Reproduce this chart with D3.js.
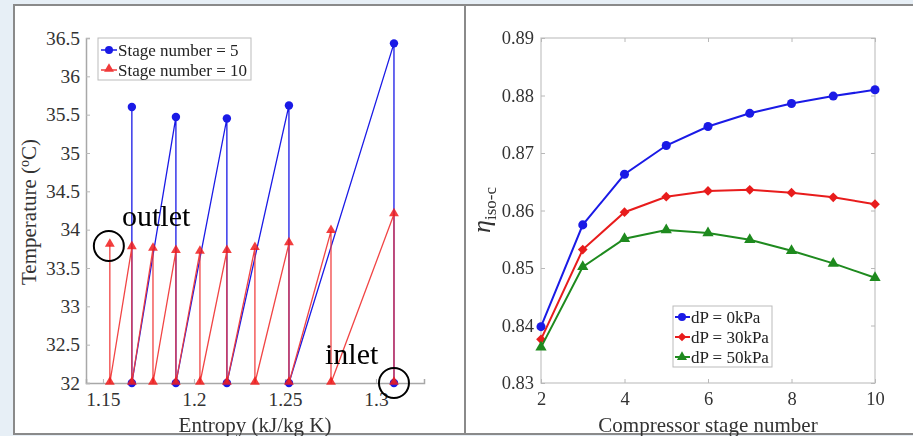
<!DOCTYPE html>
<html><head><meta charset="utf-8">
<script src="https://cdn.jsdelivr.net/npm/d3@7"></script>
<style>
html,body{margin:0;padding:0;background:#e7eff6;}
svg{display:block;font-family:"Liberation Serif","Times New Roman",serif;}
.tick text{font-family:"Liberation Serif","Times New Roman",serif !important;fill:#333;}
</style></head>
<body><svg id="c" width="913" height="436"></svg>
<script>
// ---- Left chart data (T-s diagram) ----
const stage5S  = [1.3099,1.3099,1.2522,1.2522,1.2181,1.2181,1.1901,1.1901,1.1659,1.1659];
const stage5T  = [32,36.43,32,35.62,32,35.45,32,35.47,32,35.60];
const stage10S = [1.3099,1.3099,1.2753,1.2753,1.2522,1.2522,1.2335,1.2335,1.2181,1.2181,1.2033,1.2033,1.1901,1.1901,1.1775,1.1775,1.1659,1.1659,1.1538,1.1538];
const stage10T = [32,34.20,32,33.98,32,33.82,32,33.76,32,33.72,32,33.71,32,33.72,32,33.75,32,33.77,32,33.80];
const leftXTicks = [1.15,1.2,1.25,1.3];
const leftYTicks = [32,32.5,33,33.5,34,34.5,35,35.5,36,36.5];
const leftLegend = ["Stage number = 5","Stage number = 10"];

// ---- Right chart data ----
const stages = [2,3,4,5,6,7,8,9,10];
const eta0   = [0.8398,0.8575,0.8663,0.8713,0.8746,0.8769,0.8786,0.8799,0.8810];
const eta30  = [0.8376,0.8532,0.8597,0.8624,0.8634,0.8636,0.8631,0.8623,0.8611];
const eta50  = [0.8362,0.8502,0.8551,0.8566,0.8561,0.8549,0.8530,0.8508,0.8483];
const rightLegend = ["dP = 0kPa","dP = 30kPa","dP = 50kPa"];
const rightXTicks = [2,4,6,8,10];
const rightYTicks = [0.83,0.84,0.85,0.86,0.87,0.88,0.89];

const svg = d3.select("#c");
const BLUE="#1a1ae6", RED="#f03a3a", GREEN="#1e8a1e";
const SERIF = '"Liberation Serif","Times New Roman",serif';

function styleAxis(a, fs, domainCol){
  a.attr("font-family", SERIF).attr("font-size", fs);
  if(domainCol) a.select(".domain").attr("stroke",domainCol).attr("stroke-width",1.5);
  else a.select(".domain").remove();
  a.selectAll(".tick line").attr("stroke","#b8b8b8");
  a.selectAll(".tick text").attr("fill","#333").attr("font-family",SERIF).attr("font-size",fs);
}

// panels
svg.append("rect").attr("x",14).attr("y",4).attr("width",905).attr("height",430).attr("fill","#fff");
const frame = svg.append("g").attr("stroke","#8a8a8a").attr("stroke-width",2).attr("fill","none");
frame.append("line").attr("x1",14).attr("x2",913).attr("y1",5).attr("y2",5);
frame.append("line").attr("x1",14).attr("x2",913).attr("y1",434).attr("y2",434);
frame.append("line").attr("x1",14).attr("x2",14).attr("y1",4).attr("y2",435);
frame.append("line").attr("x1",465).attr("x2",465).attr("y1",4).attr("y2",435);

// ================= LEFT =================
const xL = d3.scaleLinear().domain([1.1407,1.3264]).range([86,424]);
const yL = d3.scaleLinear().domain([32,36.5]).range([383,38]);
const gL = svg.append("g");

const axL = gL.append("g").attr("transform","translate(0,383)")
  .call(d3.axisBottom(xL).tickValues(leftXTicks).tickSize(-4).tickPadding(9).tickFormat(d3.format("")));
const ayL = gL.append("g").attr("transform","translate(86,0)")
  .call(d3.axisLeft(yL).tickValues(leftYTicks).tickSize(-4).tickPadding(6).tickFormat(d3.format("")));
styleAxis(axL,19.5,"#a8a8a8");
styleAxis(ayL,19.5,"#a8a8a8");

const lineL = d3.line().x(d=>xL(d[0])).y(d=>yL(d[1]));
const pts5 = stage5S.map((s,i)=>[s,stage5T[i]]);
const pts10 = stage10S.map((s,i)=>[s,stage10T[i]]);

gL.append("path").attr("d",lineL(pts5)).attr("fill","none").attr("stroke",BLUE).attr("stroke-width",1.3);
gL.selectAll(".c5").data(pts5).enter().append("circle")
  .attr("cx",d=>xL(d[0])).attr("cy",d=>yL(d[1])).attr("r",4.2).attr("fill",BLUE);

const tri = d3.symbol().type(d3.symbolTriangle).size(42);
gL.append("path").attr("d",lineL(pts10)).attr("fill","none").attr("stroke",RED).attr("stroke-width",1.3).attr("stroke-opacity",0.95);
gL.append("g").attr("opacity",0.85).selectAll(".t10").data(pts10).enter().append("path")
  .attr("d",tri).attr("transform",d=>`translate(${xL(d[0])},${yL(d[1])-1})`).attr("fill","#f01c1c");

// annotations
gL.append("text").attr("x",122).attr("y",226).attr("font-size",30).attr("fill","#000").text("outlet");
gL.append("text").attr("x",325).attr("y",364).attr("font-size",30).attr("fill","#000").text("inlet");
gL.append("circle").attr("cx",xL(stage10S[stage10S.length-1])-1).attr("cy",yL(stage10T[stage10T.length-1])+1)
  .attr("r",15).attr("fill","none").attr("stroke","#000").attr("stroke-width",2);
gL.append("circle").attr("cx",xL(stage10S[0])).attr("cy",yL(stage10T[0]))
  .attr("r",15).attr("fill","none").attr("stroke","#000").attr("stroke-width",2);

// legend
const lg = gL.append("g");
lg.append("rect").attr("x",98).attr("y",38).attr("width",153).attr("height",42).attr("fill","#fff").attr("stroke","#bbb");
leftLegend.forEach((t,i)=>{
  const yy = 50 + i*20;
  const col = i===0?BLUE:RED;
  lg.append("line").attr("x1",101).attr("x2",117).attr("y1",yy).attr("y2",yy).attr("stroke",col).attr("stroke-width",1.5);
  if(i===0) lg.append("circle").attr("cx",109).attr("cy",yy).attr("r",4).attr("fill",col);
  else lg.append("path").attr("d",tri).attr("transform",`translate(109,${yy-1})`).attr("fill",col);
  lg.append("text").attr("x",118).attr("y",yy+5.5).attr("font-size",17).attr("fill","#222").text(t);
});

// axis labels
gL.append("text").attr("transform","translate(36,212) rotate(-90)").attr("text-anchor","middle")
  .attr("font-size",21).attr("fill","#333")
  .html('Temperature (<tspan dy="-7" font-size="14">o</tspan><tspan dy="7">C)</tspan>');
gL.append("text").attr("x",255).attr("y",432).attr("text-anchor","middle").attr("font-size",21).attr("fill","#333")
  .text("Entropy (kJ/kg K)");

// ================= RIGHT =================
const xR = d3.scaleLinear().domain([2,10]).range([541,875]);
const yR = d3.scaleLinear().domain([0.83,0.89]).range([383,38]);
const gR = svg.append("g");
gR.append("rect").attr("x",541).attr("y",38).attr("width",334).attr("height",345).attr("fill","none").attr("stroke","#c8c8c8").attr("stroke-width",1.3);

const axR = gR.append("g").attr("transform","translate(0,383)")
  .call(d3.axisBottom(xR).tickValues(rightXTicks).tickSize(-4).tickPadding(9).tickFormat(d3.format("d")));
const ayR = gR.append("g").attr("transform","translate(541,0)")
  .call(d3.axisLeft(yR).tickValues(rightYTicks).tickSize(-4).tickPadding(7).tickFormat(d3.format(".2f")));
const ayR2 = gR.append("g").attr("transform","translate(875,0)")
  .call(d3.axisRight(yR).tickValues(rightYTicks).tickSize(-4).tickFormat(""));
const axR2 = gR.append("g").attr("transform","translate(0,38)")
  .call(d3.axisTop(xR).tickValues(rightXTicks).tickSize(-4).tickFormat(""));
[axR,ayR,ayR2,axR2].forEach(a=>styleAxis(a,18.5,null));

const lineR = d3.line().x(d=>xR(d[0])).y(d=>yR(d[1]));
const seriesR = [
  {vals:eta0, col:BLUE, sym:d3.symbolCircle, size:64},
  {vals:eta30,col:"#e81c1c",sym:d3.symbolDiamond2 || d3.symbolDiamond, size:60},
  {vals:eta50,col:GREEN,sym:d3.symbolTriangle, size:55}
];
seriesR.forEach(s=>{
  const p = stages.map((x,i)=>[x,s.vals[i]]);
  gR.append("path").attr("d",lineR(p)).attr("fill","none").attr("stroke",s.col).attr("stroke-width",2);
  const sy = d3.symbol().type(s.sym).size(s.size);
  gR.selectAll(null).data(p).enter().append("path").attr("d",sy)
    .attr("transform",d=>`translate(${xR(d[0])},${yR(d[1])})`).attr("fill",s.col);
});

// right legend
const lr = gR.append("g");
lr.append("rect").attr("x",673).attr("y",306).attr("width",99).attr("height",61).attr("fill","#fff").attr("stroke","#bbb");
rightLegend.forEach((t,i)=>{
  const yy = 317 + i*20;
  const s = seriesR[i];
  lr.append("line").attr("x1",675).attr("x2",690).attr("y1",yy).attr("y2",yy).attr("stroke",s.col).attr("stroke-width",2);
  lr.append("path").attr("d",d3.symbol().type(s.sym).size(s.size*0.8)).attr("transform",`translate(682,${yy})`).attr("fill",s.col);
  lr.append("text").attr("x",691).attr("y",yy+5.5).attr("font-size",17).attr("fill","#222").text(t);
});

gR.append("text").attr("transform","translate(490,210) rotate(-90)").attr("text-anchor","middle").attr("fill","#333")
  .html('<tspan font-size="26" font-style="italic">η</tspan><tspan font-size="17" dy="6">iso-c</tspan>');
gR.append("text").attr("x",708).attr("y",432).attr("text-anchor","middle").attr("font-size",21).attr("fill","#333")
  .text("Compressor stage number");
</script></body></html>
